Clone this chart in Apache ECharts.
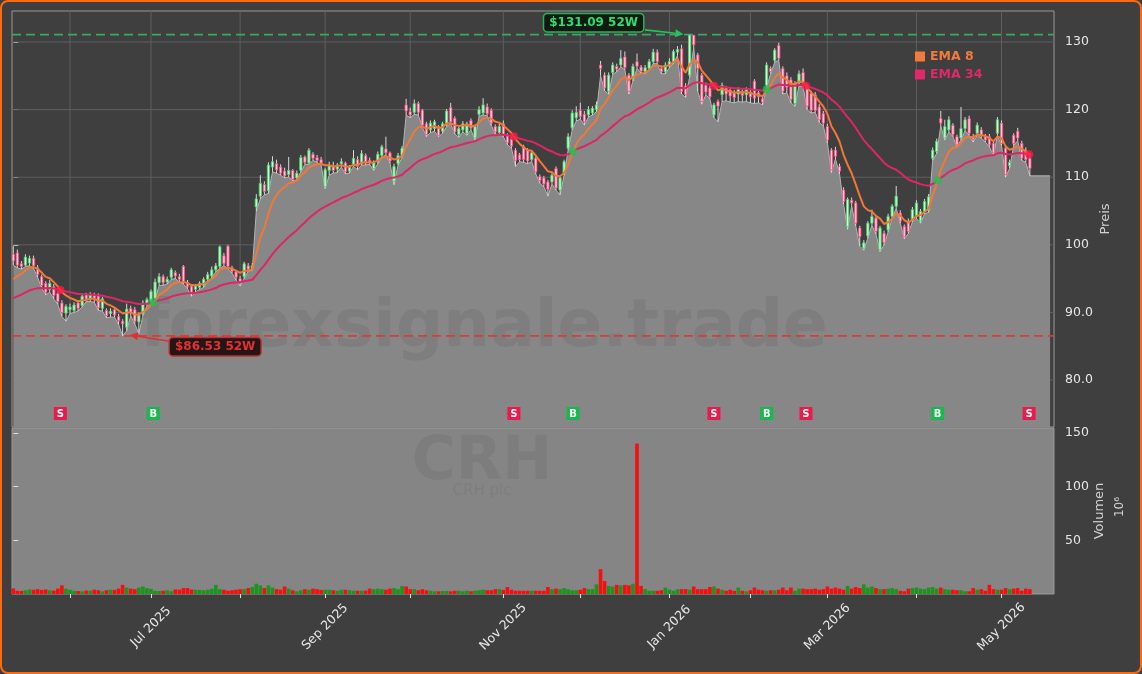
<!DOCTYPE html>
<html><head><meta charset="utf-8">
<script src="https://cdn.jsdelivr.net/npm/echarts@6/dist/echarts.min.js"></script>
<style>html,body{margin:0;padding:0;background:#3f3f3f;}#c{width:1142px;height:674px;}</style>
</head><body><div id="c"></div>
<script>
// ---- data (trading-day index 0 = 12 May 2025) ----
const opens = [
98.6,98.8,97.2,97.0,97.3,98.0,96.6,95.3,94.3,93.4,
93.8,92.8,91.4,89.9,90.4,90.3,91.4,91.0,92.6,92.0,
92.5,92.6,90.6,90.3,89.8,90.4,89.4,88.7,87.8,90.6,
90.4,88.6,89.8,91.4,91.6,92.1,94.4,95.3,94.5,95.2,
95.9,95.3,96.8,94.4,93.9,93.4,93.7,94.0,94.9,95.4,
96.3,96.8,98.4,99.8,96.6,96.0,95.0,95.3,96.9,96.5,
105.6,107.2,108.9,108.0,111.5,112.0,111.5,110.9,110.4,111.0,
109.9,111.0,113.0,112.1,113.4,112.9,112.6,108.6,111.0,111.6,
111.2,112.0,112.1,110.9,111.9,112.6,112.0,113.2,112.5,111.3,
112.3,113.2,114.2,113.6,109.4,112.0,113.1,120.7,119.7,119.6,
120.9,119.9,117.9,117.0,117.2,117.5,116.8,117.8,120.3,118.7,
116.3,117.0,116.5,118.4,115.8,119.3,119.5,120.4,119.9,117.5,
116.6,117.9,116.2,115.7,114.0,113.3,114.5,114.0,112.6,112.8,
110.1,109.9,109.3,109.3,111.3,108.1,110.6,114.3,117.3,118.8,
119.9,119.3,119.2,119.5,120.0,126.6,125.1,122.7,125.5,126.4,
126.6,127.8,125.1,124.6,127.1,126.3,125.6,126.1,127.1,128.5,
126.1,125.6,126.5,127.1,128.5,129.0,123.5,125.1,131.0,128.1,
125.1,123.6,123.2,119.2,121.2,122.2,123.2,122.9,122.5,122.3,
122.7,122.2,122.6,124.2,122.5,121.6,123.6,126.1,127.3,129.5,
126.1,125.0,124.4,120.9,123.9,125.5,123.4,122.4,122.2,120.4,
119.4,117.5,114.0,114.0,111.6,108.1,102.7,106.6,106.2,102.5,
99.5,101.3,103.2,103.95,99.3,101.7,102.2,104.2,105.7,104.7,
102.7,103.5,103.7,104.2,103.5,104.9,105.1,112.8,113.8,118.7,
115.8,117.0,117.7,116.0,115.8,117.2,118.7,116.0,116.5,117.0,
116.0,116.0,115.0,116.5,118.0,114.3,111.7,116.2,116.8,115.0,
114.0,112.8];
const closes = [
97.6,97.0,96.8,98.2,98.0,96.9,95.6,94.0,93.0,94.3,
92.5,91.6,90.0,90.9,90.8,91.1,90.6,92.4,92.0,92.6,
92.0,90.7,92.0,89.5,90.2,89.6,88.8,88.3,90.5,90.0,
88.7,89.6,91.4,91.9,93.1,94.5,95.3,94.4,94.9,96.3,
95.4,94.9,94.6,93.8,93.0,93.9,94.3,94.9,95.6,96.3,
96.9,99.7,97.2,96.8,96.1,95.2,94.6,97.2,96.4,96.9,
106.8,109.1,107.9,111.8,112.3,111.1,110.6,110.2,111.0,109.7,
110.6,112.9,112.2,114.0,112.8,112.5,112.1,111.1,111.8,111.0,
111.8,112.3,110.8,111.5,112.8,111.6,113.5,112.3,112.2,112.2,
113.4,114.5,113.6,112.4,111.6,113.2,114.3,119.8,119.2,120.9,
119.6,117.7,116.3,118.0,118.2,116.2,117.9,119.8,118.2,116.7,
117.2,117.9,117.9,117.3,117.5,120.0,120.7,119.4,118.0,116.7,
117.5,116.3,115.1,114.6,112.5,112.6,112.6,112.4,113.6,110.8,
109.5,109.0,108.2,110.3,108.4,109.9,112.3,116.0,119.5,119.6,
119.0,118.2,120.0,120.2,120.7,126.1,123.2,125.1,126.6,126.0,
127.6,126.2,122.7,126.4,126.4,125.7,126.2,127.1,128.5,127.1,
125.6,126.6,127.1,128.6,128.9,122.7,122.2,131.0,129.6,126.1,
121.2,122.6,121.9,120.7,120.5,123.6,122.3,122.0,121.8,123.0,
122.1,123.0,121.9,121.7,121.9,121.1,126.6,125.6,128.8,127.6,
122.7,123.3,121.5,123.9,125.3,123.9,120.5,119.9,119.9,118.5,
118.0,115.5,111.1,113.1,110.9,106.4,106.7,106.2,103.2,101.2,
100.3,103.2,104.2,102.0,102.5,100.3,104.2,105.7,107.2,103.5,
101.2,102.0,105.2,106.2,104.9,106.4,107.1,114.0,115.3,118.0,
117.5,118.5,116.3,114.8,117.2,118.5,116.5,115.6,117.7,116.1,
115.5,114.8,113.6,118.5,115.0,110.4,112.2,115.0,115.8,112.8,
112.6,111.3];
const lows = [
97.0,96.6,96.4,96.8,96.9,96.5,95.2,93.6,92.6,93.0,
92.0,91.2,89.4,88.7,89.8,90.0,90.2,90.8,91.6,91.6,
91.5,90.3,90.2,89.2,89.3,89.3,88.2,86.53,87.3,89.5,
88.3,86.9,89.5,91.0,91.3,91.8,94.0,94.0,94.2,94.9,
95.0,94.5,94.2,93.5,92.4,93.0,93.4,93.7,94.6,95.1,
96.0,96.5,96.9,96.5,95.8,94.8,93.9,95.0,96.1,96.2,
105.0,106.8,107.4,107.6,110.8,110.6,110.3,109.9,110.0,109.5,
109.6,110.8,111.9,111.9,112.5,112.2,111.8,108.3,110.3,110.6,
110.7,111.5,110.5,110.6,111.6,111.1,111.8,111.8,111.9,111.0,
112.0,112.9,113.3,112.1,108.9,111.8,112.9,119.2,118.8,119.3,
119.2,117.4,116.0,116.6,116.8,116.0,116.5,117.5,117.9,116.4,
115.9,116.7,116.2,117.0,115.5,119.0,119.2,119.1,117.7,116.4,
116.3,116.0,114.8,114.3,111.6,112.3,112.2,112.0,112.3,110.5,
109.1,108.6,107.2,109.0,108.1,107.4,110.3,114.0,117.0,118.3,
118.6,117.7,118.9,119.2,119.7,125.0,122.8,122.3,125.2,125.6,
126.3,125.9,122.3,124.2,126.1,125.4,125.3,125.8,126.8,126.8,
125.3,125.3,126.2,126.8,128.0,122.3,121.8,124.8,129.2,122.7,
120.8,122.2,121.6,118.8,118.2,121.2,121.3,121.1,121.0,121.2,
121.1,121.2,121.0,120.9,121.0,120.7,123.3,125.3,127.0,127.3,
122.3,122.5,121.0,120.5,123.5,123.5,120.0,119.5,119.6,118.1,
117.6,115.1,110.7,112.7,110.5,106.0,102.3,105.8,102.8,99.8,
99.2,101.0,102.9,101.6,99.0,100.0,101.9,103.9,105.4,103.2,
100.9,101.7,103.4,103.9,103.2,104.6,104.8,112.5,113.5,117.6,
115.5,116.7,116.0,114.5,115.5,116.9,116.2,115.2,116.2,115.8,
115.2,114.5,113.3,116.2,114.7,110.0,111.3,114.7,115.4,112.5,
112.2,110.2];
const highs = [
99.8,99.3,97.6,98.6,98.4,98.4,97.0,95.6,94.6,94.8,
94.2,93.2,91.8,91.2,91.3,91.5,91.8,92.8,92.9,93.0,
92.9,92.8,92.3,90.6,90.6,90.8,89.8,89.0,91.3,91.0,
90.8,90.0,91.8,92.2,93.4,95.0,95.8,95.6,95.3,96.6,
96.2,95.7,97.0,94.8,94.2,94.2,94.6,95.2,96.0,96.8,
97.3,99.9,98.8,100.0,96.9,96.2,95.4,97.5,97.3,97.3,
107.5,110.3,109.4,112.2,113.1,112.6,111.9,111.4,113.0,111.2,
111.0,113.3,113.2,114.3,113.7,113.3,113.0,111.4,112.3,112.3,
112.1,112.8,112.3,111.8,114.0,113.1,114.0,113.5,112.9,112.5,
113.8,114.8,116.0,113.8,112.0,113.6,114.6,121.6,120.3,121.5,
121.2,120.1,118.2,118.4,118.5,117.7,118.2,120.1,121.0,119.0,
117.5,118.3,118.2,118.7,117.8,120.5,121.7,120.9,120.2,117.8,
117.9,118.4,116.5,116.0,114.3,113.6,114.8,114.3,114.0,113.1,
110.4,110.2,109.6,110.6,111.6,110.2,112.6,116.5,119.9,120.5,
121.0,119.8,120.5,120.5,121.2,127.2,125.5,125.5,127.0,126.8,
128.8,128.6,125.4,126.8,128.3,126.6,126.6,127.5,129.0,128.9,
126.5,127.0,127.6,128.9,129.4,129.6,123.9,131.09,131.0,128.4,
125.4,124.0,123.5,121.0,121.5,124.0,123.5,123.2,122.9,123.3,
123.0,123.3,122.9,124.5,122.9,122.0,127.0,126.4,129.1,129.9,
126.4,125.5,124.8,124.2,125.8,126.1,123.8,122.8,122.6,120.8,
119.8,117.9,114.3,114.5,112.0,108.5,107.0,107.0,106.5,102.8,
100.7,103.5,105.2,104.3,102.8,102.1,104.6,106.0,108.7,105.1,
103.0,103.9,105.6,106.6,105.3,106.8,107.5,114.4,115.7,119.8,
118.5,119.0,118.0,116.3,120.4,118.9,119.1,116.4,118.1,117.4,
116.4,116.4,115.4,118.9,118.4,114.7,112.6,116.5,117.3,115.4,
114.4,113.6];
const volumes = [ // millions
5.2,3.0,2.8,3.5,4.2,4.0,4.5,3.8,4.2,3.5,
3.2,5.0,8.0,5.0,4.0,3.0,2.8,2.5,3.2,3.0,
4.0,3.5,2.5,3.5,4.0,3.8,5.0,8.5,6.0,5.0,
4.5,6.0,7.0,5.5,4.8,3.0,2.8,3.0,3.5,2.5,
4.2,4.0,5.5,5.5,4.2,4.0,3.8,3.5,4.0,5.0,
8.5,4.5,4.0,3.0,3.5,4.0,4.5,4.5,5.5,6.5,
9.5,8.0,5.5,8.0,6.0,4.5,4.0,7.0,5.0,3.5,
2.5,3.5,4.5,4.0,5.0,4.5,3.8,4.0,4.0,3.5,
3.0,4.0,4.0,3.5,3.0,3.0,3.0,3.2,5.0,4.5,
5.0,4.5,4.0,5.0,5.5,4.5,7.5,7.0,4.5,4.5,
3.5,4.5,3.5,3.0,2.5,2.5,2.8,2.8,2.5,3.0,
3.0,2.5,3.0,2.5,3.0,3.5,4.0,3.5,3.5,4.5,
4.5,3.8,6.5,4.0,3.0,3.0,3.0,3.0,3.0,3.0,
3.0,3.0,6.5,4.5,5.0,4.5,5.5,4.5,3.5,3.5,
4.0,5.5,4.5,4.5,9.0,23.0,12.0,7.5,7.0,8.5,
8.0,8.5,8.0,9.5,140.0,7.5,4.5,3.0,3.0,3.0,
3.5,6.0,4.0,3.0,4.5,4.5,4.5,4.0,7.0,4.5,
4.5,4.5,6.5,7.0,5.0,4.0,3.0,4.0,3.0,6.0,
3.0,2.5,3.5,6.0,4.0,3.5,3.0,3.5,3.5,4.0,
6.0,3.5,6.0,3.0,5.0,5.0,4.5,4.5,5.0,4.0,
4.5,7.0,5.0,6.0,5.0,4.0,7.5,5.0,6.5,5.5,
9.0,6.0,7.0,5.5,4.5,4.5,5.0,5.5,4.5,3.0,
2.5,5.0,5.5,6.0,5.0,4.5,6.0,6.5,5.0,6.0,
4.5,4.0,4.0,3.5,3.5,2.5,2.5,5.5,4.0,4.5,
3.0,8.5,4.5,4.0,4.0,5.5,4.5,5.0,5.5,3.0,
5.0,4.5];
const monthTickIdx = [14,34,56,77,98,121,140,162,182,201,223,244];
const labelTickIdx = [34,77,121,162,201,244];
const labelTickText = ['Jul 2025','Sep 2025','Nov 2025','Jan 2026','Mar 2026','May 2026'];
const priceTicks = [80,90,100,110,120,130];
const priceTickText = ['80.0','90.0','100','110','120','130'];
const volTicks = [50,100,150];
const ema8Seed = 94.9, ema34Seed = 92.1;
const high52 = 131.09, low52 = 86.53;
const ticker = 'CRH', company = 'CRH plc';

// ---- derived ----
const N = closes.length;
function ema(arr, n, seed){const k=2/(n+1);const out=[];let e=seed;for(let i=0;i<arr.length;i++){if(i>0)e=e+k*(arr[i]-e);out.push(+e.toFixed(3));}return out;}
const e8 = ema(closes,8,ema8Seed), e34 = ema(closes,34,ema34Seed);
const crosses=[];
for(let i=1;i<N;i++){const d0=e8[i-1]-e34[i-1], d1=e8[i]-e34[i];
  if((d0<=0&&d1>0)||(d0>=0&&d1<0)){const t=d0/(d0-d1);crosses.push({x:i-1+t,y:e34[i-1]+t*(e34[i]-e34[i-1]),buy:d1>0});}}
const hiIdx = highs.indexOf(Math.max(...highs));
const loIdx = lows.indexOf(Math.min(...lows));
const candleData = closes.map((c,i)=>[i,opens[i],c,lows[i],highs[i]]);
const areaData = lows.map((l,i)=>[i,l]); areaData.push([N+4, lows[N-1]]);

const FONT='"DejaVu Sans", sans-serif';
const XMIN=-0.32, XMAX=256.96;
const chart = echarts.init(document.getElementById('c'), null, {renderer:'canvas'});

function candleRender(params, api){
  const i=api.value(0),o=api.value(1),c=api.value(2),l=api.value(3),h=api.value(4);
  const pO=api.coord([i,o]),pC=api.coord([i,c]),pL=api.coord([i,l]),pH=api.coord([i,h]);
  const w=api.size([1,0])[0]*0.56; const up=c>=o;
  const top=Math.min(pO[1],pC[1]); const bh=Math.max(Math.abs(pO[1]-pC[1]),1);
  return {type:'group',children:[
    {type:'line',shape:{x1:pL[0],y1:pL[1],x2:pH[0],y2:pH[1]},style:{stroke:'#dadada',lineWidth:1}},
    {type:'rect',shape:{x:pO[0]-w/2,y:top,width:w,height:bh},style:{fill:up?'#d2f5d4':'#ffd2de',stroke:up?'#47d46e':'#ff4a80',lineWidth:0.85}}
  ]};
}
function volRender(params, api){
  const i=api.value(0),v=api.value(1);const up=closes[i]>=opens[i];
  const p0=api.coord([i-0.45,0]),p1=api.coord([i+0.45,v]);
  return {type:'rect',shape:{x:p0[0],y:p1[1],width:p1[0]-p0[0],height:p0[1]-p1[1]},style:{fill:up?'#1f931f':'#f50f0f'}};
}
function vLineRender(params, api){
  const cs=params.coordSys; const x=api.coord([api.value(0),100])[0];
  return {type:'line',shape:{x1:x,y1:cs.y,x2:x,y2:cs.y+cs.height},style:{stroke:'#5f5f5f',lineWidth:1}};
}
function hLineRender(params, api){
  const cs=params.coordSys; const y=api.coord([0,api.value(1)])[1];
  return {type:'line',shape:{x1:cs.x,y1:y,x2:cs.x+cs.width,y2:y},style:{stroke:'#5f5f5f',lineWidth:1}};
}
function dashRender(params, api){
  const cs=params.coordSys; const y=api.coord([0,api.value(1)])[1];
  const col=params.dataIndex===0?'#3aa862':'#dd3b3b';
  return {type:'line',shape:{x1:cs.x,y1:y,x2:cs.x+cs.width,y2:y},style:{stroke:col,lineWidth:1.6,lineDash:[9,5]}};
}
function annotRender(cfg){return function(params, api){
  const p=api.coord([api.value(0),api.value(1)]);
  const tip=[p[0]+cfg.tip[0],p[1]+cfg.tip[1]], st=[p[0]+cfg.arr[0],p[1]+cfg.arr[1]], lc=[p[0]+cfg.lab[0],p[1]+cfg.lab[1]];
  const a=Math.atan2(tip[1]-st[1],tip[0]-st[0]); const hl=8,hw=4;
  const b=[tip[0]-hl*Math.cos(a),tip[1]-hl*Math.sin(a)]; const n=[-Math.sin(a),Math.cos(a)];
  return {type:'group',children:[
    {type:'line',shape:{x1:st[0],y1:st[1],x2:b[0],y2:b[1]},style:{stroke:cfg.color,lineWidth:1.6}},
    {type:'polygon',shape:{points:[tip,[b[0]+n[0]*hw,b[1]+n[1]*hw],[b[0]-n[0]*hw,b[1]-n[1]*hw]]},style:{fill:cfg.color}},
    {type:'text',x:lc[0],y:lc[1],style:{text:cfg.text,fill:cfg.textColor,fontSize:12,fontWeight:'bold',fontFamily:FONT,align:'center',verticalAlign:'middle',backgroundColor:cfg.bg,borderColor:cfg.border,borderWidth:1.5,borderRadius:3,padding:[3,5,2,5]}}
  ]};
};}
function signalRender(params, api){
  const cs=params.coordSys; const x=api.coord([api.value(0),100])[0]; const buy=api.value(1)===1;
  const yc=cs.y+cs.height-13.5;
  return {type:'group',children:[
    {type:'rect',shape:{x:x-6.5,y:yc-6.5,width:13,height:13},style:{fill:buy?'#16b94c':'#ea1a4b'}},
    {type:'text',x:x,y:yc+0.5,style:{text:buy?'B':'S',fill:'#ffffff',fontSize:10,fontWeight:'bold',fontFamily:FONT,align:'center',verticalAlign:'middle'}}
  ]};
}

const option = {
  backgroundColor:'#3f3f3f',
  animation:false,
  textStyle:{fontFamily:FONT},
  grid:[
    {left:12,top:11,width:1042,height:416,show:true,borderColor:'#9a9a9a',borderWidth:1,backgroundColor:'transparent'},
    {left:12,top:428,width:1042,height:166,show:true,borderColor:'#9a9a9a',borderWidth:1,backgroundColor:'#858585'}
  ],
  legend:{left:910,top:45,orient:'vertical',itemGap:5,itemWidth:10,itemHeight:10,icon:'rect',selectedMode:false,
    textStyle:{fontWeight:'bold',fontSize:12.5,fontFamily:FONT},
    data:[{name:'EMA 8',textStyle:{color:'#f27a3a'}},{name:'EMA 34',textStyle:{color:'#e0286a'}}]},
  xAxis:[
    {type:'value',gridIndex:0,min:XMIN,max:XMAX,show:false,splitLine:{show:false}},
    {type:'value',gridIndex:1,min:XMIN,max:XMAX,splitLine:{show:false},axisLine:{show:false},
     axisTick:{show:true,customValues:monthTickIdx,length:4,lineStyle:{color:'#e0e0e0'}},
     axisLabel:{customValues:labelTickIdx,rotate:45,align:'center',verticalAlign:'middle',margin:33,color:'#e6e6e6',fontSize:12.5,fontFamily:FONT,
       formatter:v=>labelTickText[labelTickIdx.indexOf(v)]||''}}
  ],
  yAxis:[
    {type:'value',gridIndex:0,position:'right',min:73.05,max:134.59,splitLine:{show:false},axisLine:{show:false},
     axisTick:{show:true,customValues:priceTicks,length:5,lineStyle:{color:'#e0e0e0'}},
     axisLabel:{customValues:priceTicks,margin:11,color:'#e6e6e6',fontSize:12.5,fontFamily:FONT,formatter:v=>priceTickText[priceTicks.indexOf(v)]},
     name:'Preis',nameLocation:'middle',nameRotate:90,nameGap:45,nameMoveOverlap:false,nameTextStyle:{color:'#d2d2d2',fontSize:13,fontFamily:FONT}},
    {type:'value',gridIndex:1,position:'right',min:0,max:154.5,splitLine:{show:false},axisLine:{show:false},
     axisTick:{show:true,customValues:volTicks,length:5,lineStyle:{color:'#e0e0e0'}},
     axisLabel:{customValues:volTicks,margin:11,color:'#e6e6e6',fontSize:12.5,fontFamily:FONT},
     name:'Volumen',nameLocation:'middle',nameRotate:90,nameGap:39,nameMoveOverlap:false,nameTextStyle:{color:'#d2d2d2',fontSize:13,fontFamily:FONT}}
  ],
  graphic:[
    {type:'text',silent:true,z:3,x:484,y:329,style:{text:'forexsignale.trade',fill:'rgba(40,40,40,0.085)',fontSize:66,fontWeight:'bold',fontFamily:FONT,align:'center',verticalAlign:'middle'}},
    {type:'text',silent:true,z:3,x:482,y:463,style:{text:ticker,fill:'rgba(40,40,40,0.08)',fontSize:60,fontWeight:'bold',fontFamily:FONT,align:'center',verticalAlign:'middle'}},
    {type:'text',silent:true,z:3,x:482,y:491,style:{text:company,fill:'rgba(40,40,40,0.07)',fontSize:15,fontFamily:FONT,align:'center',verticalAlign:'middle'}},
    {type:'text',silent:true,z:3,x:1120,y:507,rotation:Math.PI/2,style:{text:'10⁶',fill:'#d2d2d2',fontSize:12,fontFamily:FONT,align:'center',verticalAlign:'middle'}},
    {type:'rect',silent:true,z:100,shape:{x:1,y:1,width:1140,height:672,r:7},style:{fill:'none',stroke:'#ff6a10',lineWidth:2}}
  ],
  series:[
    {type:'custom',name:'vgrid',xAxisIndex:0,yAxisIndex:0,z:1,silent:true,renderItem:vLineRender,data:monthTickIdx.map(v=>[v,100])},
    {type:'custom',name:'hgrid',xAxisIndex:0,yAxisIndex:0,z:1,silent:true,renderItem:hLineRender,data:priceTicks.map(v=>[0,v])},
    {type:'line',name:'low-area',xAxisIndex:0,yAxisIndex:0,z:2,silent:true,showSymbol:false,data:areaData,
     lineStyle:{color:'#b4b4b4',width:1},areaStyle:{color:'#878787',opacity:1,origin:'start'}},
    {type:'custom',name:'52w',xAxisIndex:0,yAxisIndex:0,z:3,silent:true,renderItem:dashRender,data:[[0,high52],[0,low52]]},
    {type:'custom',name:'candles',xAxisIndex:0,yAxisIndex:0,z:4,silent:true,renderItem:candleRender,data:candleData,clip:true},
    {type:'line',name:'EMA 34',xAxisIndex:0,yAxisIndex:0,z:5,showSymbol:false,data:e34.map((v,i)=>[i,v]),color:'#e0286a',lineStyle:{color:'#dc2764',width:2}},
    {type:'line',name:'EMA 8',xAxisIndex:0,yAxisIndex:0,z:5,showSymbol:false,data:e8.map((v,i)=>[i,v]),color:'#f27a3a',lineStyle:{color:'#f07838',width:2}},
    {type:'scatter',name:'cross',xAxisIndex:0,yAxisIndex:0,z:6,silent:true,symbolSize:8,
     data:crosses.map(c=>({value:[c.x,c.y],itemStyle:{color:c.buy?'#1fc155':'#ff1a48'}}))},
    {type:'custom',name:'signals',xAxisIndex:0,yAxisIndex:0,z:6,silent:true,renderItem:signalRender,data:crosses.map(c=>[c.x,c.buy?1:0])},
    {type:'custom',name:'hiAnnot',xAxisIndex:0,yAxisIndex:0,z:7,silent:true,data:[[hiIdx,high52]],
     renderItem:annotRender({text:'$'+high52.toFixed(2)+' 52W',textColor:'#2fdc6e',bg:'#101a12',border:'#27b35a',color:'#27c060',tip:[-6.3,-0.5],arr:[-44.6,-4.8],lab:[-96,-12]})},
    {type:'custom',name:'loAnnot',xAxisIndex:0,yAxisIndex:0,z:7,silent:true,data:[[loIdx,low52]],
     renderItem:annotRender({text:'$'+low52.toFixed(2)+' 52W',textColor:'#e8302e',bg:'#221616',border:'#c03030',color:'#e0302e',tip:[7.3,-0.9],arr:[45.6,5.1],lab:[92.5,10.9]})},
    {type:'custom',name:'volume',xAxisIndex:1,yAxisIndex:1,z:3,silent:true,renderItem:volRender,data:volumes.map((v,i)=>[i,v])}
  ]
};
chart.setOption(option);
</script></body></html>
